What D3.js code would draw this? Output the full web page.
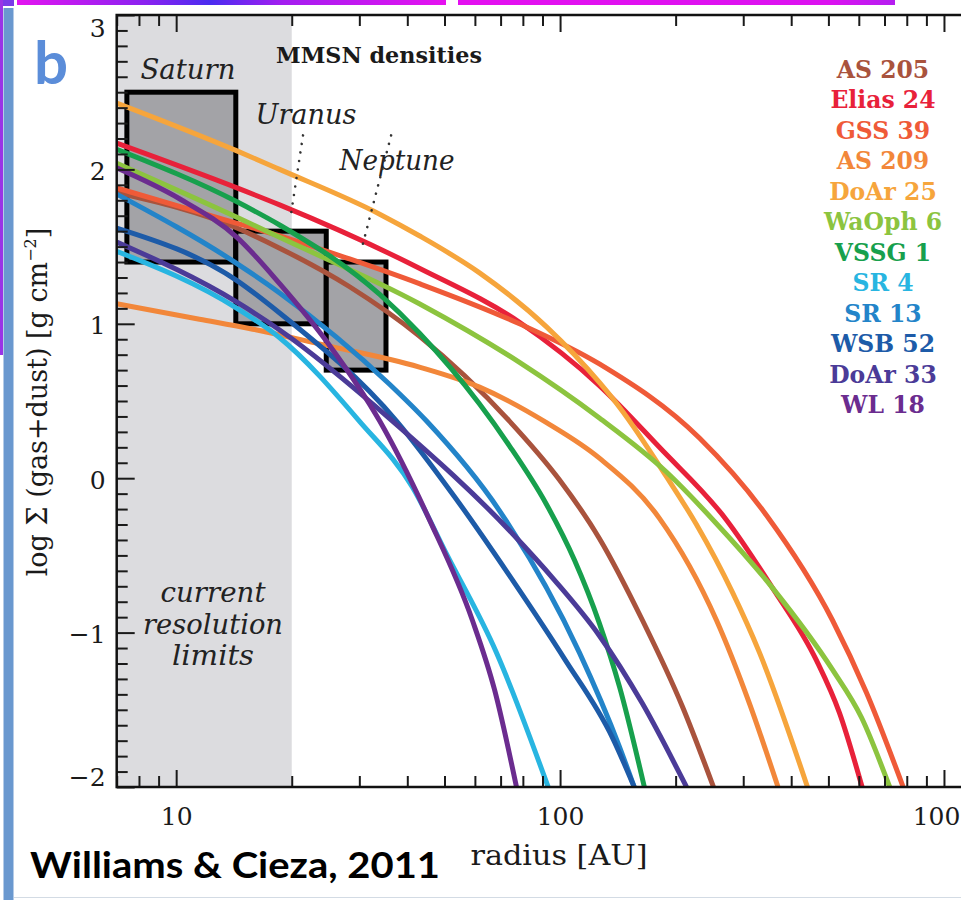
<!DOCTYPE html>
<html>
<head>
<meta charset="utf-8">
<script src="https://cdn.jsdelivr.net/npm/d3@7"></script>
<style>
  html, body { margin: 0; padding: 0; background: #fff; }
  svg { display: block; }
</style>
</head>
<body>
<svg id="chart" width="961" height="900"></svg>
<script>
// Disc names and their line colours (legend order = drawing order)
const discNames = ["AS 205", "Elias 24", "GSS 39", "AS 209", "DoAr 25", "WaOph 6",
                   "VSSG 1", "SR 4", "SR 13", "WSB 52", "DoAr 33", "WL 18"];
const discColors = ["#a9533d", "#e8213a", "#ef5a38", "#f2873a", "#f6a53c", "#8cc43f",
                    "#17a04d", "#28b5e1", "#2384c9", "#1d5ba8", "#4b3b98", "#6b2c8f"];

// Surface density profiles: [radius (AU), log Sigma (g cm^-2)]
const as205   = [[7,1.85],[14.4,1.62],[18.6,1.49],[28.3,1.24],[43.0,0.92],[73.8,0.37],[99.6,-0.01],[126.6,-0.39],[163.9,-0.92],[208.4,-1.48],[251,-2]];
const elias24 = [[7,2.17],[14.4,1.88],[18.6,1.77],[43.0,1.36],[78.4,1.01],[126.6,0.60],[181.5,0.20],[271.3,-0.27],[357.5,-0.71],[465.5,-1.18],[534.3,-1.52],[612,-2]];
const gss39   = [[7,1.88],[14.4,1.65],[18.6,1.57],[28.3,1.42],[43.0,1.26],[78.4,1.00],[126.6,0.74],[230.7,0.26],[344.8,-0.24],[512.4,-0.92],[628.4,-1.39],[783,-2]];
const as209   = [[7,1.13],[11.5,1.03],[15.5,0.97],[23.6,0.87],[43.0,0.72],[61.7,0.59],[92.2,0.36],[126.6,0.13],[181.5,-0.26],[255.5,-0.92],[311.5,-1.46],[369.6,-2]];
const doar25  = [[7,2.43],[14.4,2.12],[18.6,2.00],[33.9,1.71],[43.0,1.57],[61.7,1.33],[92.2,0.98],[126.6,0.62],[142.8,0.46],[189.3,0.01],[226.6,-0.30],[281.3,-0.74],[330.7,-1.13],[441,-2]];
const waoph6  = [[7,2.04],[14.4,1.69],[18.6,1.56],[43.0,1.13],[78.4,0.75],[126.6,0.39],[189.3,0.04],[252.5,-0.28],[357.5,-0.71],[512.4,-1.24],[609.8,-1.55],[722,-2]];
const vssg1   = [[7,2.13],[14.4,1.79],[18.6,1.64],[33.9,1.19],[43.0,0.94],[61.7,0.48],[73.8,0.21],[92.2,-0.17],[109.0,-0.53],[126.6,-0.94],[142.8,-1.35],[165.8,-2]];
const sr4     = [[7,1.47],[14.4,1.10],[18.6,0.91],[30.0,0.37],[41.3,-0.06],[50.6,-0.49],[68.3,-1.13],[93.1,-2]];
const sr13    = [[7,1.84],[14.4,1.39],[18.6,1.20],[35.9,0.61],[44.9,0.37],[69.5,-0.21],[112.3,-1.13],[142.8,-1.74],[156,-2]];
const wsb52   = [[7,1.62],[14.4,1.28],[18.6,1.07],[37.5,0.37],[53.1,-0.12],[75.2,-0.66],[102.7,-1.17],[136.9,-1.68],[156,-2]];
const doar33  = [[7,1.53],[14.4,1.14],[18.6,0.96],[36.6,0.37],[75.2,-0.36],[96.7,-0.66],[126.6,-1.02],[163.9,-1.46],[213.5,-2]];
const wl18    = [[7,2.01],[10.2,1.81],[14.4,1.56],[18.6,1.26],[25.1,0.86],[33.9,0.37],[45.7,-0.27],[59.1,-0.92],[67.5,-1.37],[77,-2]];
const profiles = [as205, elias24, gss39, as209, doar25, waoph6, vssg1, sr4, sr13, wsb52, doar33, wl18];

// Minimum-mass solar nebula boxes
const mmsnPlanets  = ["Saturn", "Uranus", "Neptune"];
const mmsnRadiusLo = [7.44, 14.3, 24.6];
const mmsnRadiusHi = [14.3, 24.6, 35.2];
const mmsnSigmaLo  = [1.40, 1.0, 0.7];
const mmsnSigmaHi  = [2.50, 1.6, 1.4];

// Axis ticks
const xMajorTicks = [10, 100, 1000];
const xMinorTicks = [7, 8, 9, 20, 30, 40, 50, 60, 70, 80, 90, 200, 300, 400, 500, 600, 700, 800, 900];
const yMajorTicks = [-2, -1, 0, 1, 2, 3];
const yMinorTicks = d3.range(-20, 31).filter(k => k % 10 !== 0).map(k => k / 10);

// Resolution limit (AU)
const resolutionLimit = 20;

// ---------------------------------------------------------------------------
const svg = d3.select("#chart");
const W = 961, H = 900;
const plotLeft = 116.7, plotTop = 15, plotBottom = 787, decadePx = 383.9;
const xMin = 7, xMax = 1150;
const plotRight = plotLeft + decadePx * Math.log10(xMax / xMin);

const x = d3.scaleLog().domain([xMin, xMax]).range([plotLeft, plotRight]);
const y = d3.scaleLinear().domain([-2, 3]).range([plotBottom, plotTop]);

const serif = "'DejaVu Serif', serif";

// page decoration: top strips and left bar
const defs = svg.append("defs");
const g1 = defs.append("linearGradient").attr("id", "strip1");
g1.append("stop").attr("offset", "0%").attr("stop-color", "#e414f0");
g1.append("stop").attr("offset", "30%").attr("stop-color", "#8a22f0");
g1.append("stop").attr("offset", "45%").attr("stop-color", "#4a2cf0");
g1.append("stop").attr("offset", "62%").attr("stop-color", "#a41ef0");
g1.append("stop").attr("offset", "100%").attr("stop-color", "#e612f0");
const g2 = defs.append("linearGradient").attr("id", "strip2");
g2.append("stop").attr("offset", "0%").attr("stop-color", "#e410f0");
g2.append("stop").attr("offset", "85%").attr("stop-color", "#dc12f0");
g2.append("stop").attr("offset", "100%").attr("stop-color", "#b41ef0");

svg.append("rect").attr("x", 0).attr("y", 0).attr("width", 14).attr("height", 6).attr("fill", "#7a3ce8");
svg.append("rect").attr("x", 17).attr("y", 0).attr("width", 429).attr("height", 5).attr("fill", "url(#strip1)");
svg.append("rect").attr("x", 458).attr("y", 0).attr("width", 437).attr("height", 5).attr("fill", "url(#strip2)");
svg.append("rect").attr("x", 0).attr("y", 0).attr("width", 3).attr("height", 355).attr("fill", "#9a34e6");
svg.append("rect").attr("x", 3.5).attr("y", 8).attr("width", 10).attr("height", 892).attr("fill", "#6a98cf");
svg.append("line").attr("x1", 14).attr("x2", W).attr("y1", 897.5).attr("y2", 897.5)
  .attr("stroke", "#d3dbe4").attr("stroke-width", 1);

// clip region for the plotting area
defs.append("clipPath").attr("id", "plotClip")
  .append("rect").attr("x", plotLeft).attr("y", plotTop)
  .attr("width", plotRight - plotLeft).attr("height", plotBottom - plotTop);

const plot = svg.append("g").attr("clip-path", "url(#plotClip)");

// shaded region inside the resolution limit
plot.append("rect")
  .attr("x", x(xMin)).attr("y", y(3))
  .attr("width", x(resolutionLimit) - x(xMin)).attr("height", y(-2) - y(3))
  .attr("fill", "#dcdcdf");

// MMSN boxes
plot.selectAll("rect.mmsn").data(mmsnPlanets).join("rect")
  .attr("class", "mmsn")
  .attr("x", (d, i) => x(mmsnRadiusLo[i]))
  .attr("y", (d, i) => y(mmsnSigmaHi[i]))
  .attr("width", (d, i) => x(mmsnRadiusHi[i]) - x(mmsnRadiusLo[i]))
  .attr("height", (d, i) => y(mmsnSigmaLo[i]) - y(mmsnSigmaHi[i]))
  .attr("fill", "#a3a3a7").attr("stroke", "#000").attr("stroke-width", 5);

// disc profiles
const line = d3.line().x(d => x(d[0])).y(d => y(d[1])).curve(d3.curveMonotoneX);
plot.selectAll("path.profile").data(profiles).join("path")
  .attr("class", "profile")
  .attr("d", line)
  .attr("fill", "none")
  .attr("stroke", (d, i) => discColors[i])
  .attr("stroke-width", 5)
  .attr("stroke-linejoin", "round");

// planet labels and leader dots
const ann = svg.append("g").attr("font-family", serif).attr("font-style", "italic")
  .attr("font-size", 27).attr("fill", "#222");
ann.append("text").attr("x", 188).attr("y", 70).attr("dy", "0.35em").attr("text-anchor", "middle")
  .attr("textLength", 95).attr("lengthAdjust", "spacingAndGlyphs").text(mmsnPlanets[0]);
ann.append("text").attr("x", 306).attr("y", 115).attr("dy", "0.35em").attr("text-anchor", "middle")
  .attr("textLength", 101).attr("lengthAdjust", "spacingAndGlyphs").text(mmsnPlanets[1]);
ann.append("text").attr("x", 397).attr("y", 161).attr("dy", "0.35em").attr("text-anchor", "middle")
  .attr("textLength", 115).attr("lengthAdjust", "spacingAndGlyphs").text(mmsnPlanets[2]);

const resText = ["current", "resolution", "limits"];
const resWidth = [105, 140, 82];
const resY = [593, 625, 656];
ann.selectAll("text.res").data(resText).join("text")
  .attr("class", "res")
  .attr("x", 213).attr("y", (d, i) => resY[i]).attr("dy", "0.35em")
  .attr("text-anchor", "middle")
  .attr("textLength", (d, i) => resWidth[i]).attr("lengthAdjust", "spacingAndGlyphs")
  .text(d => d);

const dotted = [[[21.4, 2.22], [19.8, 1.67]], [[36.3, 2.22], [30.3, 1.47]]];
svg.selectAll("line.leader").data(dotted).join("line")
  .attr("class", "leader")
  .attr("x1", d => x(d[0][0])).attr("y1", d => y(d[0][1]))
  .attr("x2", d => x(d[1][0])).attr("y2", d => y(d[1][1]))
  .attr("stroke", "#333").attr("stroke-width", 2.6)
  .attr("stroke-linecap", "round").attr("stroke-dasharray", "0.1 8.5");

svg.append("text").attr("x", 379).attr("y", 55).attr("dy", "0.35em")
  .attr("text-anchor", "middle").attr("font-family", serif).attr("font-weight", "bold")
  .attr("font-size", 23).attr("fill", "#1a1a1a")
  .attr("textLength", 206).attr("lengthAdjust", "spacingAndGlyphs")
  .text("MMSN densities");

// axes
const tickColor = "#1a1a1a";
function styleAxis(g) {
  g.select(".domain").remove();
  g.selectAll(".tick line").attr("stroke", tickColor).attr("stroke-width", 2);
  g.selectAll(".tick text").attr("fill", "#1a1a1a").attr("font-family", serif).attr("font-size", 25);
}

svg.append("g").attr("transform", `translate(${plotLeft},0)`)
  .call(d3.axisLeft(y).tickValues(yMajorTicks).tickSizeInner(-18).tickSizeOuter(0).tickPadding(11)
        .tickFormat(d3.format("d")))
  .call(styleAxis)
  .call(g => g.selectAll(".tick text").attr("dy", d => d === 3 ? "0.85em" : d === -2 ? "-0.05em" : "0.4em"));
svg.append("g").attr("transform", `translate(${plotLeft},0)`)
  .call(d3.axisLeft(y).tickValues(yMinorTicks).tickSizeInner(-11).tickSizeOuter(0).tickFormat(""))
  .call(styleAxis);

svg.append("g").attr("transform", `translate(0,${plotBottom})`)
  .call(d3.axisBottom(x).tickValues(xMajorTicks).tickSizeInner(-17).tickSizeOuter(0).tickPadding(20)
        .tickFormat(d3.format("d")))
  .call(styleAxis);
svg.append("g").attr("transform", `translate(0,${plotBottom})`)
  .call(d3.axisBottom(x).tickValues(xMinorTicks).tickSizeInner(-11).tickSizeOuter(0).tickFormat(""))
  .call(styleAxis);
svg.append("g").attr("transform", `translate(0,${plotTop})`)
  .call(d3.axisTop(x).tickValues(xMajorTicks).tickSizeInner(-17).tickSizeOuter(0).tickFormat(""))
  .call(styleAxis);
svg.append("g").attr("transform", `translate(0,${plotTop})`)
  .call(d3.axisTop(x).tickValues(xMinorTicks).tickSizeInner(-11).tickSizeOuter(0).tickFormat(""))
  .call(styleAxis);

// frame
svg.append("rect").attr("x", plotLeft).attr("y", plotTop)
  .attr("width", plotRight - plotLeft).attr("height", plotBottom - plotTop)
  .attr("fill", "none").attr("stroke", "#111").attr("stroke-width", 2.5);

// axis titles
svg.append("text").attr("x", 559).attr("y", 855).attr("dy", "0.35em").attr("text-anchor", "middle")
  .attr("font-family", serif).attr("font-size", 28).attr("fill", "#1a1a1a")
  .attr("textLength", 177).attr("lengthAdjust", "spacingAndGlyphs")
  .text("radius [AU]");

const yTitle = svg.append("text")
  .attr("transform", "translate(47,402) rotate(-90)")
  .attr("text-anchor", "middle").attr("font-family", serif).attr("font-size", 27).attr("fill", "#1a1a1a");
yTitle.append("tspan").text("log Σ (gas+dust) [g cm");
yTitle.append("tspan").attr("font-size", 16).attr("dy", -11).text("−2");
yTitle.append("tspan").attr("dy", 11).text("]");

// legend
svg.append("g").selectAll("text").data(discNames).join("text")
  .attr("x", 883).attr("y", (d, i) => 69.5 + i * 30.5).attr("dy", "0.36em")
  .attr("text-anchor", "middle").attr("font-family", serif).attr("font-weight", "bold")
  .attr("font-size", 23.5).attr("fill", (d, i) => discColors[i])
  .text(d => d);

// panel letter and citation
svg.append("text").attr("x", 34).attr("y", 84).attr("font-family", "Lato, 'Open Sans', sans-serif")
  .attr("font-weight", "bold").attr("font-size", 60).attr("fill", "#5b8dd9").text("b");
svg.append("text").attr("x", 30).attr("y", 878).attr("font-family", "Lato, 'Open Sans', sans-serif")
  .attr("font-weight", "bold").attr("font-size", 36).attr("fill", "#000")
  .attr("textLength", 410).attr("lengthAdjust", "spacingAndGlyphs")
  .text("Williams & Cieza, 2011");
</script>
</body>
</html>
